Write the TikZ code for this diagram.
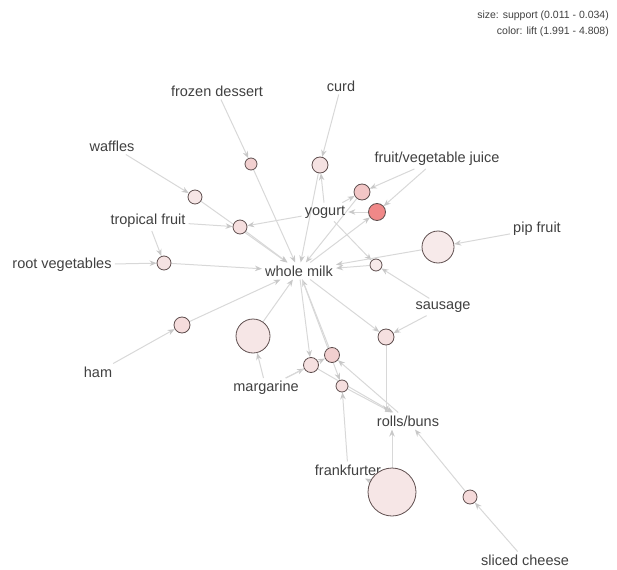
\documentclass[tikz,border=0pt]{standalone}
\usepackage{fontspec}
\setmainfont{Liberation Sans}
\usetikzlibrary{arrows.meta,backgrounds}
\definecolor{itemtext}{HTML}{404040}
\definecolor{edgegray}{HTML}{D8D8D8}
\definecolor{tipgray}{HTML}{C8C8C8}
\definecolor{ruleline}{HTML}{5E4E4E}
\tikzset{
  item/.style={text=itemtext, font=\fontsize{14.5}{16}\selectfont, inner sep=3pt},
  legendtext/.style={text=itemtext, font=\fontsize{10.5}{12}\selectfont, inner sep=0pt, anchor=east},
  rulenode/.style={circle, draw=ruleline, line width=0.8pt, inner sep=0pt, minimum size=#1},
  edge/.style={draw=edgegray, line width=1pt, -{Stealth[length=7pt,width=5.5pt,color=tipgray]}}
}
\begin{document}
\begin{tikzpicture}[x=1pt,y=-1pt]
\useasboundingbox (0,0) rectangle (617,569);

% legend
\node[legendtext] (lsize) at (609,16) {size: support (0.011 - 0.034)};
\node[legendtext] (lcolor) at (609,32) {color: lift (1.991 - 4.808)};

% items
\node[item] (frozen) at (217,91) {frozen dessert};
\node[item] (curd) at (341,86) {curd};
\node[item] (waffles) at (112,146) {waffles};
\node[item] (juice) at (437,159) {fruit/vegetable juice};
\node[item] (tropical) at (148,221) {tropical fruit};
\node[item] (yogurt) at (325,212) {yogurt};
\node[item] (pip) at (537,229) {pip fruit};
\node[item] (rootveg) at (62,265) {root vegetables};
\node[item] (milk) at (299,271) {whole milk};
\node[item] (sausage) at (443,307) {sausage};
\node[item] (ham) at (98,372) {ham};
\node[item] (margarine) at (266,388) {margarine};
\node[item] (rolls) at (408,421) {rolls/buns};
\node[item] (frank) at (348,470) {frankfurter};
\node[item] (cheese) at (525,560) {sliced cheese};

% rules: size ~ support, colour ~ lift
\node[rulenode=12pt, fill={rgb,255:red,242;green,208;blue,208}] (r1) at (251,164) {};
\node[rulenode=16pt, fill={rgb,255:red,245;green,226;blue,226}] (r2) at (320,165) {};
\node[rulenode=16pt, fill={rgb,255:red,242;green,198;blue,198}] (r3) at (362,192) {};
\node[rulenode=17pt, fill={rgb,255:red,240;green,136;blue,136}] (r4) at (377,212) {};
\node[rulenode=14pt, fill={rgb,255:red,245;green,222;blue,222}] (r5) at (240,227) {};
\node[rulenode=14pt, fill={rgb,255:red,246;green,230;blue,230}] (r6) at (195,197) {};
\node[rulenode=14pt, fill={rgb,255:red,245;green,226;blue,226}] (r7) at (164,263) {};
\node[rulenode=16pt, fill={rgb,255:red,245;green,220;blue,220}] (r8) at (182,325) {};
\node[rulenode=34pt, fill={rgb,255:red,246;green,230;blue,230}] (r9) at (253,336) {};
\node[rulenode=15pt, fill={rgb,255:red,245;green,224;blue,224}] (r10) at (311,365) {};
\node[rulenode=15pt, fill={rgb,255:red,242;green,207;blue,207}] (r11) at (332,355) {};
\node[rulenode=12pt, fill={rgb,255:red,245;green,222;blue,222}] (r12) at (342,386) {};
\node[rulenode=16pt, fill={rgb,255:red,245;green,224;blue,224}] (r13) at (386,337) {};
\node[rulenode=12pt, fill={rgb,255:red,247;green,234;blue,234}] (r14) at (376,265) {};
\node[rulenode=32pt, fill={rgb,255:red,247;green,234;blue,234}] (r15) at (438,247) {};
\node[rulenode=48pt, fill={rgb,255:red,246;green,230;blue,230}] (r16) at (392,492) {};
\node[rulenode=14pt, fill={rgb,255:red,245;green,218;blue,218}] (r17) at (470,497) {};

\begin{pgfonlayer}{background}
\draw[edge] (frozen) -- (r1);  \draw[edge] (r1) -- (milk);
\draw[edge] (curd) -- (r2);    \draw[edge] (yogurt) -- (r2);  \draw[edge] (r2) -- (milk);
\draw[edge] (juice) -- (r3);   \draw[edge] (yogurt) -- (r3);  \draw[edge] (r3) -- (milk);
\draw[edge] (juice) -- (r4);   \draw[edge] (milk) -- (r4);    \draw[edge] (r4) -- (yogurt);
\draw[edge] (tropical) -- (r5); \draw[edge] (yogurt) -- (r5); \draw[edge] (r5) -- (milk);
\draw[edge] (waffles) -- (r6); \draw[edge] (r6) -- (milk);
\draw[edge] (rootveg) -- (r7); \draw[edge] (tropical) -- (r7); \draw[edge] (r7) -- (milk);
\draw[edge] (ham) -- (r8);     \draw[edge] (r8) -- (milk);
\draw[edge] (margarine) -- (r9); \draw[edge] (r9) -- (milk);
\draw[edge] (margarine) -- (r10); \draw[edge] (milk) -- (r10); \draw[edge] (r10) -- (rolls);
\draw[edge] (margarine) -- (r11); \draw[edge] (rolls) -- (r11); \draw[edge] (r11) -- (milk);
\draw[edge] (frank) -- (r12);  \draw[edge] (milk) -- (r12);   \draw[edge] (r12) -- (rolls);
\draw[edge] (milk) -- (r13);   \draw[edge] (sausage) -- (r13); \draw[edge] (r13) -- (r13 |- rolls.north);
\draw[edge] (yogurt) -- (r14); \draw[edge] (sausage) -- (r14); \draw[edge] (r14) -- (milk);
\draw[edge] (pip) -- (r15);    \draw[edge] (r15) -- (milk);
\draw[edge] (r16) -- (r16 |- rolls.south);  \draw[edge] (r16) -- (frank);
\draw[edge] (cheese) -- (r17); \draw[edge] (r17) -- (rolls);
\end{pgfonlayer}
\end{tikzpicture}
\end{document}
